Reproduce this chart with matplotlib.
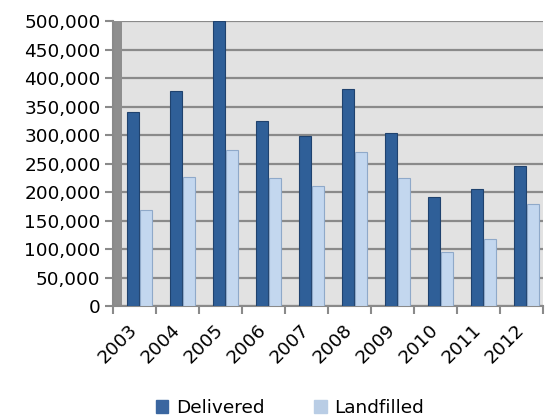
import matplotlib.pyplot as plt
import matplotlib.patches as mpatches
from matplotlib.ticker import FuncFormatter
import numpy as np

plt.rcParams['font.family'] = ['DejaVu Sans']

# 年份與數值
years = ['2003', '2004', '2005', '2006', '2007', '2008', '2009', '2010', '2011', '2012']
delivered = [340000, 378000, 500000, 325000, 298000, 381000, 303000, 192000, 205000, 246000]
landfilled = [168000, 227000, 273000, 224000, 210000, 271000, 225000, 95000, 117000, 179000]
series_names = ['Delivered', 'Landfilled']

dark = '#2f5f98'
light = '#c3d7ef'
fs = 13.3

fig = plt.figure(figsize=(5.47, 4.19), dpi=100)
ax = fig.add_axes([0.2066, 0.2697, 0.786, 0.68])
ax.set_facecolor('#e2e2e2')

x = np.arange(len(years))
w = 0.28
ax.bar(x - 0.035, delivered, w, color=dark, edgecolor='#1f426e', linewidth=0.8, zorder=3, label=series_names[0])
ax.bar(x + 0.265, landfilled, w, color=light, edgecolor='#8fa9c9', linewidth=0.8, zorder=3, label=series_names[1])

# 左側灰色牆
ax.add_patch(mpatches.Rectangle((0, 0), 0.021, 1, transform=ax.transAxes,
                                facecolor='#8e8e8e', edgecolor='none', zorder=2))

ax.set_xlim(-0.5, len(years) - 0.5)
ax.set_ylim(0, 500000)
ax.set_yticks(np.arange(0, 500001, 50000))
ax.yaxis.set_major_formatter(FuncFormatter(lambda v, p: f'{int(v):,}'))
ax.grid(axis='y', color='#8a8a8a', linewidth=1.6)
ax.set_axisbelow(True)

ax.set_xticks(x)
ax.set_xticklabels(years, rotation=45, ha='right', va='center', rotation_mode='anchor')
ax.set_xticks(np.arange(-0.5, len(years)), minor=True)
ax.tick_params(axis='x', which='major', length=0, pad=15, labelsize=fs, colors='black')
ax.tick_params(axis='x', which='minor', length=6, width=1.5, color='#8a8a8a')
ax.tick_params(axis='y', length=6, width=1.5, color='#8a8a8a', labelsize=fs, pad=3)

for s in ['top', 'right']:
    ax.spines[s].set_visible(False)
ax.spines['left'].set_color('#8a8a8a')
ax.spines['left'].set_linewidth(1.5)
ax.spines['bottom'].set_color('#8a8a8a')
ax.spines['bottom'].set_linewidth(1.5)

handles = [mpatches.Patch(color='#3a66a0'), mpatches.Patch(color='#b9cde5')]
fig.legend(handles, series_names, loc='center', bbox_to_anchor=(0.53, 0.026), ncol=2,
           frameon=False, fontsize=fs, handlelength=0.7, handleheight=0.7,
           handletextpad=0.4, columnspacing=2.7)

fig.savefig('out.png', dpi=100)
